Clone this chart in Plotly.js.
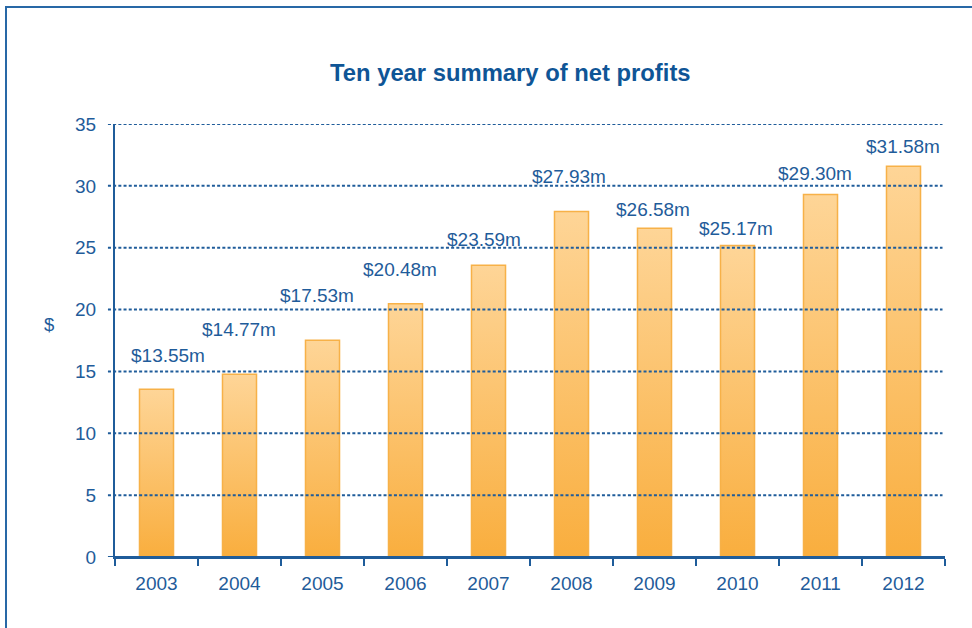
<!DOCTYPE html>
<html>
<head>
<meta charset="utf-8">
<script src="https://cdn.plot.ly/plotly-3.0.1.min.js"></script>
<style>
  html, body { margin: 0; padding: 0; background: #fff; overflow: hidden; }
  #frame {
    position: absolute; left: 5px; top: 6px; width: 1200px; height: 900px;
    border-left: 2px solid #2868a6; border-top: 2px solid #2868a6;
    box-sizing: border-box; pointer-events: none; z-index: 2;
  }
  #chart { width: 972px; height: 628px; }
</style>
</head>
<body>
<div id="frame"></div>
<div id="chart"></div>
<script>
// Net profit per year, in $ millions
const years = ['2003', '2004', '2005', '2006', '2007', '2008', '2009', '2010', '2011', '2012'];
const profits = [13.55, 14.77, 17.53, 20.48, 23.59, 27.93, 26.58, 25.17, 29.30, 31.58];
const yTicks = [0, 5, 10, 15, 20, 25, 30, 35];

// label nudges in pixels (the labels sit a bit off their bars in the original)
const labelDx = [11, -1, -6, -6, -5, -3, -2, -2, -6, -1];
const labelDy = [34, 45, 45, 34, 26, 35, 19, 17, 21, 20];

const blue = '#1f5c9a';
const font = 'Liberation Sans, Arial, Helvetica, sans-serif';

const trace = {
    x: years,
    y: profits,
    type: 'bar',
    marker: {
        color: '#fbc46e',
        line: { color: '#f7b148', width: 1.5 }
    },
    hoverinfo: 'none'
};

// dotted gridlines drawn over the bars, solid baseline at 0
const shapes = yTicks.map(v => ({
    type: 'line',
    xref: 'paper', yref: 'y',
    x0: -0.0085, x1: v === 0 ? 1 : 0.997,
    y0: v, y1: v,
    layer: 'above',
    line: v === 0
        ? { color: blue, width: 2 }
        : { color: blue, width: 2, dash: '3px,2.2px' }
}));

// x by category index: this build reads '2003' as a number on a category axis
const annotations = years.map((yr, i) => ({
    x: i,
    y: profits[i],
    xref: 'x', yref: 'y',
    text: '$' + profits[i].toFixed(2) + 'm',
    showarrow: false,
    xanchor: 'center', yanchor: 'middle',
    xshift: labelDx[i],
    yshift: labelDy[i],
    font: { family: font, size: 19, color: blue }
}));

annotations.push({
    xref: 'paper', yref: 'paper',
    x: -0.079, y: 0.538,
    xanchor: 'center', yanchor: 'middle',
    text: '$',
    showarrow: false,
    font: { family: font, size: 18.5, color: blue }
});

const layout = {
    width: 972,
    height: 628,
    margin: { l: 115, r: 27, t: 124, b: 71 },
    paper_bgcolor: '#fff',
    plot_bgcolor: '#fff',
    showlegend: false,
    bargap: 0.59,
    title: {
        text: '<b>Ten year summary of net profits</b>',
        font: { family: font, size: 23.8, color: '#0f5596' },
        x: 0.525, xanchor: 'center',
        y: 0.884, yanchor: 'middle'
    },
    xaxis: {
        type: 'category',
        range: [-0.5, 9.5],
        showgrid: false,
        showline: true,
        linecolor: blue,
        linewidth: 2,
        ticks: 'outside',
        tickson: 'boundaries',
        ticklen: 7,
        tickwidth: 2,
        tickcolor: blue,
        ticklabelstandoff: 8,
        tickfont: { family: font, size: 19, color: blue },
        fixedrange: true
    },
    yaxis: {
        range: [0, 35],
        tickvals: yTicks,
        showgrid: false,
        zeroline: false,
        showline: true,
        linecolor: blue,
        linewidth: 2,
        ticks: '',
        ticklabelstandoff: 13,
        tickfont: { family: font, size: 19, color: blue },
        fixedrange: true
    },
    shapes: shapes,
    annotations: annotations
};

Plotly.newPlot('chart', [trace], layout, { displayModeBar: false, staticPlot: true }).then(gd => {
    // vertical light-to-dark fill on every bar
    const svg = gd.querySelector('svg.main-svg');
    const ns = 'http://www.w3.org/2000/svg';
    let defs = svg.querySelector('defs');
    if (!defs) {
        defs = document.createElementNS(ns, 'defs');
        svg.insertBefore(defs, svg.firstChild);
    }
    const grad = document.createElementNS(ns, 'linearGradient');
    grad.setAttribute('id', 'barGrad');
    grad.setAttribute('x1', '0'); grad.setAttribute('y1', '0');
    grad.setAttribute('x2', '0'); grad.setAttribute('y2', '1');
    [['0%', '#fed597'], ['100%', '#f9ae3e']].forEach(([off, col]) => {
        const stop = document.createElementNS(ns, 'stop');
        stop.setAttribute('offset', off);
        stop.setAttribute('stop-color', col);
        grad.appendChild(stop);
    });
    defs.appendChild(grad);
    gd.querySelectorAll('.trace.bars .point path').forEach(p => {
        p.style.fill = 'url(#barGrad)';
    });
});
</script>
</body>
</html>
